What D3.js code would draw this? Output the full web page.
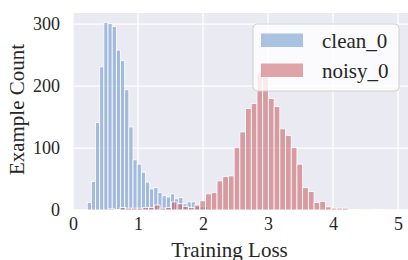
<!DOCTYPE html>
<html><head><meta charset="utf-8">
<script src="https://cdn.jsdelivr.net/npm/d3@7"></script>
<style>html,body{margin:0;padding:0;background:#fff;overflow:hidden}svg{display:block}</style>
</head><body>
<svg id="c" width="408" height="260"></svg>
<script>
// ---- data ----
const seriesNames = ["clean_0", "noisy_0"];
const cleanBinStart = 0.219, cleanBinWidth = 0.064;
const cleanCounts = [12, 46, 141, 231, 303, 301, 296, 258, 241, 194, 134, 81, 74, 61, 45, 34, 36, 28, 23, 21, 26, 18, 20, 10, 13, 13, 6, 5, 5, 3, 2, 2, 1, 2, 1, 1, 0, 1];
const noisyBinStart = 0.46, noisyBinWidth = 0.0878;
const noisyCounts = [0, 2, 1, 4, 3, 3, 3, 4, 4, 8, 3, 4, 13, 10, 6, 4, 8, 15, 26, 28, 47, 54, 55, 101, 126, 164, 172, 222, 215, 180, 167, 131, 120, 101, 74, 36, 30, 12, 14, 5, 3, 3, 3, 1, 1, 0, 0, 1, 1, 0];
const xTicks = [0, 1, 2, 3, 4, 5];
const yTicks = [0, 100, 200, 300];
const xLabel = "Training Loss", yLabel = "Example Count";

// ---- layout ----
const svg = d3.select("#c");
const pL = 73, pR = 410, pT = 13, pB = 210;
const x = d3.scaleLinear().domain([0, 5]).range([73, 398]);
const y = d3.scaleLinear().domain([0, 318]).range([pB, pT]);
const font = "'Liberation Serif','Times New Roman',serif";
const colors = {clean_0: "#5a8ac6", noisy_0: "#c44e52"};

svg.append("rect").attr("x", pL).attr("y", pT).attr("width", pR - pL).attr("height", pB - pT).attr("fill", "#eaeaf2");

// grid
svg.append("g").selectAll("line").data(xTicks).join("line")
  .attr("x1", d => x(d)).attr("x2", d => x(d)).attr("y1", pT).attr("y2", pB)
  .attr("stroke", "#fff").attr("stroke-width", 1.3);
svg.append("g").selectAll("line").data(yTicks).join("line")
  .attr("x1", pL).attr("x2", pR).attr("y1", d => y(d)).attr("y2", d => y(d))
  .attr("stroke", "#fff").attr("stroke-width", 1.3);

function bars(counts, start, width, color) {
  const data = counts.map((c, i) => ({x0: start + i * width, x1: start + (i + 1) * width, c}));
  svg.append("g").selectAll("rect").data(data.filter(d => d.c > 0)).join("rect")
    .attr("x", d => x(d.x0)).attr("width", d => x(d.x1) - x(d.x0))
    .attr("y", d => y(d.c)).attr("height", d => y(0) - y(d.c))
    .attr("fill", color).attr("fill-opacity", 0.5)
    .attr("stroke", "#fff").attr("stroke-width", 0.8);
}
bars(cleanCounts, cleanBinStart, cleanBinWidth, colors.clean_0);
bars(noisyCounts, noisyBinStart, noisyBinWidth, colors.noisy_0);

// axes (no tick marks, no domain)
const xAxis = svg.append("g").attr("transform", `translate(0,${pB})`)
  .call(d3.axisBottom(x).tickValues(xTicks).tickSize(0).tickPadding(7).tickFormat(d3.format("d")));
xAxis.select(".domain").remove();
xAxis.selectAll("text").attr("font-family", font).attr("font-size", 18).attr("fill", "#262626");
const yAxis = svg.append("g").attr("transform", `translate(${pL},0)`)
  .call(d3.axisLeft(y).tickValues(yTicks).tickSize(0).tickPadding(13).tickFormat(d3.format("d")));
yAxis.select(".domain").remove();
yAxis.selectAll("text").attr("font-family", font).attr("font-size", 18).attr("fill", "#262626");

svg.append("text").attr("x", x(2.5) - 6).attr("y", 257).attr("text-anchor", "middle")
  .attr("font-family", font).attr("font-size", 21).attr("fill", "#262626").text(xLabel);
svg.append("text").attr("transform", `translate(24,${(pT + pB) / 2 - 2}) rotate(-90)`).attr("text-anchor", "middle")
  .attr("font-family", font).attr("font-size", 21).attr("fill", "#262626").text(yLabel);

// legend
const lg = svg.append("g");
lg.append("rect").attr("x", 253).attr("y", 24).attr("width", 146).attr("height", 67).attr("rx", 4)
  .attr("fill", "#fff").attr("fill-opacity", 0.8).attr("stroke", "#d0d0d0").attr("stroke-width", 1);
seriesNames.forEach((n, i) => {
  lg.append("rect").attr("x", 261).attr("y", 33.5 + i * 30).attr("width", 42).attr("height", 13.5)
    .attr("fill", colors[n]).attr("fill-opacity", 0.5);
  lg.append("text").attr("x", 322).attr("y", 47.5 + i * 30).attr("font-family", font).attr("font-size", 21)
    .attr("fill", "#262626").text(n);
});
</script>
</body></html>
